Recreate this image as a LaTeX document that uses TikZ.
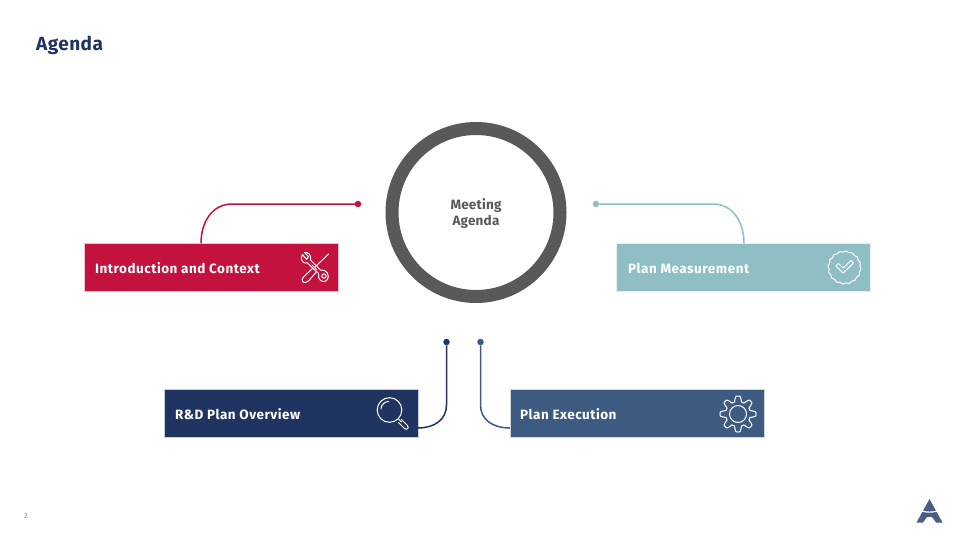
\documentclass[tikz,border=0pt]{standalone}
\usepackage{fontspec}
\setmainfont{Fira Sans}
\newfontfamily\spaced[LetterSpace=3.7]{Fira Sans}
\newfontfamily\spacedtitle[LetterSpace=2.4]{Fira Sans}
\newfontfamily\spacedring[LetterSpace=1.5]{Fira Sans}
\definecolor{cred}{HTML}{C2123D}
\definecolor{cteal}{HTML}{8FBFC4}
\definecolor{cnavy}{HTML}{1F3461}
\definecolor{cblue}{HTML}{3D5A80}
\definecolor{cring}{HTML}{58595B}
\definecolor{clogo}{HTML}{4A5D82}
\tikzset{
  barbox/.style={draw=white!75!#1,line width=.6pt,fill=#1,minimum width=254pt,minimum height=48pt,inner sep=0pt,outer sep=0pt},
  barlabel/.style={text=white,font=\spaced\fontsize{13.5}{16}\selectfont\bfseries,anchor=west,inner sep=0pt},
  enddot/.style={circle,fill=#1,minimum size=6.5pt,inner sep=0pt,outer sep=0pt},
  link/.style={draw=#1,line width=1.5pt},
  icon/.style={draw=white,line width=1pt,line join=round,line cap=round},
}
\begin{document}
\begin{tikzpicture}[x=1pt,y=-1pt]
\useasboundingbox (0,0) rectangle (960,540);
\fill[white] (0,0) rectangle (960,540);
\node[anchor=west,inner sep=0pt,text=cnavy,font=\spacedtitle\fontsize{19}{22}\selectfont\bfseries] (title) at (36,45.5) {Agenda};

% ring
\node[circle,draw=cring,line width=13pt,minimum size=168pt,inner sep=0pt,outer sep=0pt] (ring) at (476,212.5) {};
\node[inner sep=0pt,align=center,text=cring,font=\spacedring\fontsize{13.5}{16}\selectfont\bfseries] (ringtext) at (476,214) {Meeting\\Agenda};

% boxes
\node[barbox=cred]  (intro) at (211.2,267.3) {};
\node[barbox=cteal] (meas)  at (743.2,267.3) {};
\node[barbox=cnavy] (over)  at (291,413.5) {};
\node[barbox=cblue] (exec)  at (637,413.5) {};
\node[barlabel] (introtext) at (95,268) {Introduction and Context};
\node[barlabel] (meastext)  at (628,268) {Plan Measurement};
\node[barlabel] (overtext)  at (175,414) {R\&D Plan Overview};
\node[barlabel] (exectext)  at (520,414) {Plan Execution};

% dots
\node[enddot=cred]  (d1) at (358,204) {};
\node[enddot=cteal] (d2) at (596,204) {};
\node[enddot=cnavy] (d3) at (446.5,342) {};
\node[enddot=cblue] (d4) at (480.5,342) {};
\coordinate (e1) at (201,243.3);
\coordinate (e2) at (744,243.3);
\coordinate (e3) at (418,428);
\coordinate (e4) at (510,428);

% connectors
\draw[link=cred]  (d1) -- (232,204) .. controls (213,204) and (201,221) .. (e1);
\draw[link=cteal] (d2) -- (713,204) .. controls (732,204) and (744,221) .. (e2);
\draw[link=cnavy] (d3) -- (446.5,405) .. controls (446.5,420) and (434,428) .. (e3);
\draw[link=cblue] (d4) -- (480.5,405) .. controls (480.5,420) and (493,428) .. (e4);

% tools icon
\begin{scope}[icon,shift={(-1.5,0)}]
  \draw (330,254) -- (316,267.5);
  \draw (313.5,265) -- (318.5,270);
  \draw (314,268.5) -- (305.5,276.5) .. controls (301,281) and (305.5,285) .. (310,281) -- (317.5,272.5);
  \draw (304,254.5) .. controls (301,259) and (304,264) .. (309,263) -- (320,273.5)
     .. controls (319,279) and (323,282.5) .. (326.5,281.5) .. controls (331,280) and (331,272.5) .. (326,270.5)
     .. controls (324,270) and (323,270) .. (322.5,270.5) -- (312,260) .. controls (313,255) and (310,252) .. (306,252.5) -- (310,256.5) -- (308,259.5) -- cycle;
  \draw (325.5,276) circle (2.2);
\end{scope}

% check badge
\begin{scope}[icon]
  \draw[shift={(844.5,267.5)}] plot[domain=0:360,samples=240,smooth] ({(16+0.5*sin(16*\x))*cos(\x)},{(16+0.5*sin(16*\x))*sin(\x)}) -- cycle;
  \draw (836,266) -- (838.5,263.5) -- (843,268) -- (851,260.5) -- (853.5,263) -- (843,273) -- cycle;
\end{scope}

% magnifier
\begin{scope}[icon,shift={(-0.5,0)}]
  \draw (390,410) circle (12.3);
  \draw (381.5,409) .. controls (381.5,405) and (385,401.5) .. (389,401.5);
  \draw (399,419) -- (402,422);
  \draw (402,419.5) -- (408,425.5) .. controls (410,428) and (407,430.5) .. (405,428.5) -- (399,422.5);
\end{scope}

% gear
\begin{scope}[icon]
  \draw[shift={(738,414)}] plot[domain=0:360,samples=320,smooth] ({(15.2+2.8*max(min(1.5*sin(8*\x+90),1),-1))*cos(\x)},{(15.2+2.8*max(min(1.5*sin(8*\x+90),1),-1))*sin(\x)}) -- cycle;
  \draw (738,414) circle (8.5);
\end{scope}

% logo
\fill[clogo] (929.5,499) -- (942.5,522.5) -- (936,522.5) -- (932,517) -- (927,517) -- (923,522.5) -- (916.5,522.5) -- cycle;
\draw[white,line width=1.2pt] (919,509.5) .. controls (924,513) and (935,513) .. (940,509.5);

% page number
\node[inner sep=0pt,text=gray,font=\fontsize{7}{8}\selectfont] (pageno) at (26,516) {2};
\end{tikzpicture}
\end{document}
